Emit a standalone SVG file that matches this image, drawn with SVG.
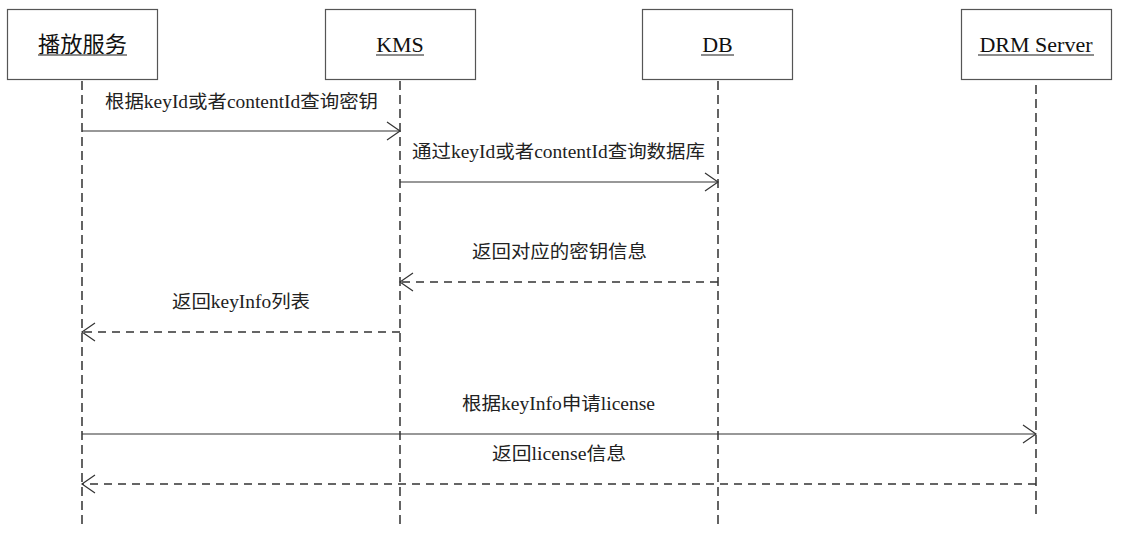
<svg xmlns="http://www.w3.org/2000/svg" width="1121" height="538" viewBox="0 0 1121 538">
<style>
.box{fill:#fff;stroke:#555;stroke-width:1.2}
.hd{font-family:"Liberation Serif","Noto Sans CJK SC",serif;font-size:22px;fill:#111;text-anchor:middle}
.ul{stroke:#666;stroke-width:1.5}
.life{stroke:#111;stroke-width:1.3;stroke-dasharray:9,5;fill:none}
.msg{stroke:#333;stroke-width:1.2;fill:none}
.ret{stroke:#333;stroke-width:1.5;stroke-dasharray:8,6;fill:none}
.head{stroke:#333;stroke-width:1.2;fill:none}
.lbl{font-family:"Liberation Serif","Noto Sans CJK SC",serif;font-size:18px;fill:#222;text-anchor:middle}
</style>
<g id="node-play">
<rect class="box" x="7.5" y="9.5" width="150" height="70"/>
<text class="hd" x="82.5" y="52" textLength="89" lengthAdjust="spacingAndGlyphs">播放服务</text>
<line class="ul" x1="38" y1="55" x2="127" y2="55"/>
</g>
<g id="node-kms">
<rect class="box" x="325.5" y="9.5" width="150" height="70"/>
<text class="hd" x="400" y="52">KMS</text>
<line class="ul" x1="376" y1="55" x2="424" y2="55"/>
</g>
<g id="node-db">
<rect class="box" x="642.5" y="9.5" width="150" height="70"/>
<text class="hd" x="717.5" y="52">DB</text>
<line class="ul" x1="701" y1="55" x2="734" y2="55"/>
</g>
<g id="node-drm">
<rect class="box" x="961.5" y="9.5" width="150" height="70"/>
<text class="hd" x="1036" y="52">DRM Server</text>
<line class="ul" x1="978" y1="55" x2="1094" y2="55"/>
</g>
<g id="lifelines">
<line class="life" x1="82" y1="81" x2="82" y2="527"/>
<line class="life" x1="400" y1="81" x2="400" y2="527"/>
<line class="life" x1="718" y1="81" x2="718" y2="527"/>
<line class="life" x1="1036" y1="85" x2="1036" y2="516"/>
</g>
<g id="connectors">
<line class="msg" x1="82" y1="131" x2="400" y2="131"/>
<polyline class="head" points="387,122 400,131 387,140"/>
<line class="msg" x1="400" y1="182" x2="718" y2="182"/>
<polyline class="head" points="705,173 718,182 705,191"/>
<line class="ret" x1="718" y1="282" x2="400" y2="282"/>
<polyline class="head" points="413,273 400,282 413,291"/>
<line class="ret" x1="400" y1="332" x2="82" y2="332"/>
<polyline class="head" points="95,323 82,332 95,341"/>
<line class="msg" x1="82" y1="434" x2="1036" y2="434"/>
<polyline class="head" points="1023,425 1036,434 1023,443"/>
<line class="ret" x1="1036" y1="484" x2="82" y2="484"/>
<polyline class="head" points="95,475 82,484 95,493"/>
</g>
<g id="labels">
<text class="lbl" x="241.5" y="108" textLength="273" lengthAdjust="spacingAndGlyphs">根据keyId或者contentId查询密钥</text>
<text class="lbl" x="558.5" y="158" textLength="293" lengthAdjust="spacingAndGlyphs">通过keyId或者contentId查询数据库</text>
<text class="lbl" x="559.5" y="258" textLength="175" lengthAdjust="spacingAndGlyphs">返回对应的密钥信息</text>
<text class="lbl" x="241" y="308" textLength="138" lengthAdjust="spacingAndGlyphs">返回keyInfo列表</text>
<text class="lbl" x="558.5" y="410" textLength="193" lengthAdjust="spacingAndGlyphs">根据keyInfo申请license</text>
<text class="lbl" x="559" y="460" textLength="134" lengthAdjust="spacingAndGlyphs">返回license信息</text>
</g>
</svg>
